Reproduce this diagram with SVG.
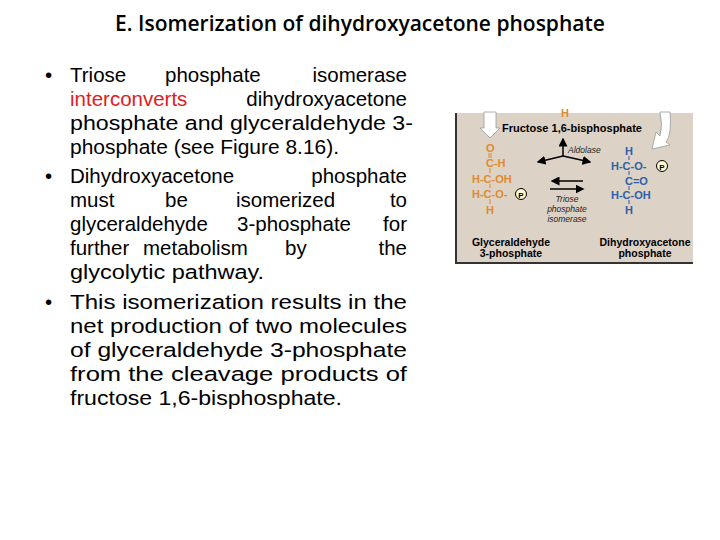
<svg xmlns="http://www.w3.org/2000/svg" width="720" height="540" viewBox="0 0 720 540">
<style>
.t{font-family:"Liberation Sans",Arial,sans-serif;font-size:20.5px;fill:#000}
.f{font-family:"Liberation Sans",Arial,sans-serif;font-weight:bold}
.o{fill:#e08a2e;font-size:11px}
.b{fill:#2f5fa8;font-size:11px}
.i{font-family:"Liberation Sans",sans-serif;font-style:italic;font-size:8.5px;fill:#222}
</style>
<defs><marker id="ah" markerWidth="6" markerHeight="6" refX="5" refY="3" orient="auto"><path d="M0,0L6,3L0,6z" fill="#000"/></marker></defs>
<rect width="720" height="540" fill="#fff"/>
<text x="360" y="31" text-anchor="middle" font-family="Open Sans,Liberation Sans,sans-serif" font-size="21" font-weight="600">E. Isomerization of dihydroxyacetone phosphate</text>
<g id="text">
<text class="t" x="45" y="82">•</text>
<text class="t" y="82"><tspan x="70">Triose</tspan><tspan x="165">phosphate</tspan><tspan x="407" text-anchor="end">isomerase</tspan></text>
<text class="t" y="106"><tspan x="70" fill="#e02020">interconverts</tspan><tspan x="407" text-anchor="end">dihydroxyacetone</tspan></text>
<text class="t" x="70" y="130" textLength="343" lengthAdjust="spacingAndGlyphs">phosphate and glyceraldehyde 3-</text>
<text class="t" x="70" y="154" textLength="269" lengthAdjust="spacingAndGlyphs">phosphate (see Figure 8.16).</text>
<text class="t" x="45" y="183">•</text>
<text class="t" y="183"><tspan x="70">Dihydroxyacetone</tspan><tspan x="407" text-anchor="end">phosphate</tspan></text>
<text class="t" y="207"><tspan x="70">must</tspan><tspan x="165">be</tspan><tspan x="236">isomerized</tspan><tspan x="407" text-anchor="end">to</tspan></text>
<text class="t" y="231"><tspan x="70">glyceraldehyde</tspan><tspan x="237">3-phosphate</tspan><tspan x="407" text-anchor="end">for</tspan></text>
<text class="t" y="255"><tspan x="70">further</tspan><tspan x="143">metabolism</tspan><tspan x="285">by</tspan><tspan x="407" text-anchor="end">the</tspan></text>
<text class="t" x="70" y="279" textLength="194" lengthAdjust="spacingAndGlyphs">glycolytic pathway.</text>
<text class="t" x="45" y="309">•</text>
<text class="t" x="70" y="309" textLength="337" lengthAdjust="spacingAndGlyphs">This isomerization results in the</text>
<text class="t" x="70" y="333" textLength="337" lengthAdjust="spacingAndGlyphs">net production of two molecules</text>
<text class="t" x="70" y="357" textLength="337" lengthAdjust="spacingAndGlyphs">of glyceraldehyde 3-phosphate</text>
<text class="t" x="70" y="381" textLength="337" lengthAdjust="spacingAndGlyphs">from the cleavage products of</text>
<text class="t" x="70" y="405" textLength="272" lengthAdjust="spacingAndGlyphs">fructose 1,6-bisphosphate.</text>
</g>
<g id="figure">
<rect x="456" y="113" width="237" height="150" fill="#dcd2c6"/>
<path d="M456,113V263H693" fill="none" stroke="#333" stroke-width="2"/>
<path d="M484,112H496V128H500L490,138L480,128H484z" fill="#fff" stroke="#999" stroke-width="0.8"/>
<path d="M660,112H670Q672,135 666,142L670,145L652,149L656,132L660,136Q663,125 660,112z" fill="#fff" stroke="#999" stroke-width="0.8"/>
<text x="565" y="117" class="f o" text-anchor="middle">H</text>
<text x="572" y="132" class="f" font-size="11" text-anchor="middle">Fructose 1,6-bisphosphate</text>
<g fill="none" stroke="#000" stroke-width="1.5">
<path d="M563,156V139" marker-end="url(#ah)"/>
<path d="M563,156L538,162" marker-end="url(#ah)"/>
<path d="M563,156L590,162" marker-end="url(#ah)"/>
<path d="M583,181H552" marker-end="url(#ah)"/>
<path d="M550,189H583" marker-end="url(#ah)"/>
</g>
<text x="568" y="153" class="i">Aldolase</text>
<g stroke="#e08a2e" stroke-width="1">
<path d="M489,153V158M491,153V158M490,168V173M490,184V188M490,199V204"/>
</g>
<g class="f o">
<text x="486" y="152">O</text>
<text x="486" y="167">C-H</text>
<text x="472" y="183">H-C-OH</text>
<text x="472" y="198">H-C-O-</text>
<text x="486" y="214">H</text>
</g>
<circle cx="521" cy="194" r="5.5" fill="#fff8d0" stroke="#000"/>
<text x="521" y="197.5" class="f" font-size="8" text-anchor="middle">P</text>
<g stroke="#2f5fa8" stroke-width="1">
<path d="M629,156V160M629,171V175M629,186V190M629,200V204"/>
</g>
<g class="f b">
<text x="625" y="155">H</text>
<text x="611" y="170">H-C-O-</text>
<text x="625" y="185">C=O</text>
<text x="611" y="199">H-C-OH</text>
<text x="625" y="214">H</text>
</g>
<circle cx="662" cy="166" r="5.5" fill="#fff8d0" stroke="#000"/>
<text x="662" y="169.5" class="f" font-size="8" text-anchor="middle">P</text>
<text x="567" y="202" class="i" text-anchor="middle">Triose</text>
<text x="567" y="212" class="i" text-anchor="middle">phosphate</text>
<text x="567" y="222" class="i" text-anchor="middle">isomerase</text>
<text x="511" y="246" class="f" font-size="10.5" text-anchor="middle">Glyceraldehyde</text>
<text x="511" y="257" class="f" font-size="10.5" text-anchor="middle">3-phosphate</text>
<text x="645" y="246" class="f" font-size="10.5" text-anchor="middle">Dihydroxyacetone</text>
<text x="645" y="257" class="f" font-size="10.5" text-anchor="middle">phosphate</text>
</g>
</svg>
